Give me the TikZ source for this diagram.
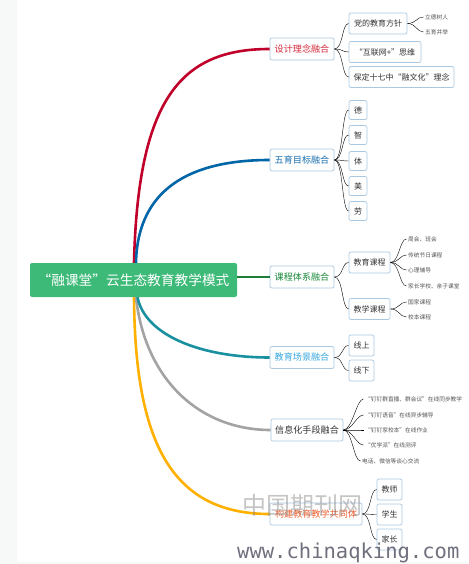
\documentclass[tikz,border=0pt]{standalone}
\usepackage{fontspec}
\newfontfamily\cjk{Noto Sans CJK SC}
\newfontfamily\wmono{DejaVu Sans Mono}
\usetikzlibrary{calc}
\definecolor{rootgreen}{HTML}{3DBA78}
\definecolor{bdr}{HTML}{A9C9E2}
\definecolor{redl}{HTML}{C0002A}
\definecolor{redt}{HTML}{D42A3C}
\definecolor{bluel}{HTML}{0066A8}
\definecolor{bluet}{HTML}{1A6FB0}
\definecolor{greenl}{HTML}{1B7F3A}
\definecolor{greent}{HTML}{1A8A3C}
\definecolor{teall}{HTML}{1890A0}
\definecolor{tealt}{HTML}{3AA8E0}
\definecolor{grayl}{HTML}{A3A3A3}
\definecolor{orangel}{HTML}{FFB000}
\definecolor{oranget}{HTML}{F06030}
\definecolor{txt}{HTML}{333333}
\definecolor{small}{HTML}{555555}
\definecolor{conn}{HTML}{C8C8C8}
\definecolor{strip}{HTML}{F7F8F8}
\definecolor{wm}{HTML}{60616F}
\begin{document}
\begin{tikzpicture}[x=1pt,y=-1pt,
  rootbox/.style={draw=none,fill=rootgreen,rounded corners=2pt,minimum width=207pt,minimum height=34pt,inner sep=0pt,text=white,font=\cjk\fontsize{13.7}{15}\selectfont},
  lone/.style={draw=bdr,line width=0.7pt,fill=white,rounded corners=2pt,minimum height=22pt,inner sep=0pt,font=\cjk\fontsize{9.1}{10}\selectfont},
  ltwo/.style={draw=bdr,line width=0.7pt,fill=white,rounded corners=2pt,minimum height=21pt,inner sep=0pt,text=txt,font=\cjk\fontsize{8}{9}\selectfont},
  lthree/.style={anchor=west,inner sep=1.5pt,text=small,font=\cjk\fontsize{5.7}{6}\selectfont},
  mainline/.style={line width=2.6pt},
  sub/.style={draw=conn,line width=0.6pt,to path={.. controls +(9,0) and +(-7,0) .. (\tikztotarget)}}
]
\useasboundingbox (0,0) rectangle (468,564);
\fill[white] (0,0) rectangle (468,564);
\fill[strip] (0,0) rectangle (17,564);
\fill[strip] (0,562) rectangle (468,564);

% level 1 nodes
\node[lone,text=redt,minimum width=64pt] (k1) at (302,49) {设计理念融合};
\node[lone,text=bluet,minimum width=64pt] (k2) at (302,160) {五育目标融合};
\node[lone,text=greent,minimum width=64pt] (k3) at (302,277) {课程体系融合};
\node[lone,text=tealt,minimum width=64pt] (k4) at (302,357.5) {教育场景融合};
\node[lone,text=txt,minimum width=72pt] (k5) at (307,430) {信息化手段融合};
\node[lone,text=oranget,minimum width=92pt] (k6) at (316,514) {构建教育教学共同体};

% root
\node[rootbox] (r) at (133.5,280) {“融课堂”云生态教育教学模式};

% main connectors
\draw[mainline,redl] ($(r.north)+(0.5,0)$) .. controls (138,100) and (180,49) .. (k1.west);
\draw[mainline,bluel] ($(r.north)+(2.5,0)$) .. controls (137,210) and (165,160) .. (k2.west);
\draw[mainline,greenl] (k3.west -| r.east) -- (k3.west);
\draw[mainline,orangel] ($(r.south)+(0.5,0)$) .. controls (135,440) and (170,514) .. (k6.west);
\draw[mainline,grayl] ($(r.south)+(2.5,0)$) .. controls (145,380) and (200,430) .. (k5.west);
\draw[mainline,teall] ($(r.south)+(4,0)$) .. controls (145,335) and (200,357.5) .. (k4.west);

% branch 1
\node[ltwo,minimum width=58pt] (a1) at (378,23.5) {党的教育方针};
\node[ltwo,minimum width=72pt] (a2) at (385,52) {“互联网+”思维};
\node[ltwo,minimum width=105pt] (a3) at (401.5,77) {保定十七中“融文化”理念};
\node[lthree] (a11) at (423.5,17) {立德树人};
\node[lthree] (a12) at (423.5,32) {五育并举};
\foreach \c in {a1,a2,a3} \draw (k1.east) to[sub] (\c.west);
\foreach \c in {a11,a12} \draw (a1.east) to[sub] (\c.west);

% branch 2
\node[ltwo,minimum width=18pt,minimum height=19pt] (b1) at (358,110) {德};
\node[ltwo,minimum width=18pt,minimum height=19pt] (b2) at (358,135) {智};
\node[ltwo,minimum width=18pt,minimum height=19pt] (b3) at (358,161) {体};
\node[ltwo,minimum width=18pt,minimum height=19pt] (b4) at (358,186) {美};
\node[ltwo,minimum width=18pt,minimum height=19pt] (b5) at (358,211) {劳};
\foreach \c in {b1,b2,b3,b4,b5} \draw (k2.east) to[sub] (\c.west);

% branch 3
\node[ltwo,minimum width=41pt] (c1) at (369.5,262.5) {教育课程};
\node[ltwo,minimum width=41pt] (c2) at (369.5,309) {教学课程};
\node[lthree] (c11) at (406.5,239) {周会、班会};
\node[lthree] (c12) at (406.5,255) {传统节日课程};
\node[lthree] (c13) at (406.5,270) {心理辅导};
\node[lthree] (c14) at (406.5,286) {家长学校、亲子课堂};
\node[lthree] (c21) at (406.5,302) {国家课程};
\node[lthree] (c22) at (406.5,317) {校本课程};
\foreach \c in {c1,c2} \draw (k3.east) to[sub] (\c.west);
\foreach \c in {c11,c12,c13,c14} \draw (c1.east) to[sub] (\c.west);
\foreach \c in {c21,c22} \draw (c2.east) to[sub] (\c.west);

% branch 4
\node[ltwo,minimum width=25pt] (d1) at (361.5,345.5) {线上};
\node[ltwo,minimum width=25pt] (d2) at (361.5,370.5) {线下};
\foreach \c in {d1,d2} \draw (k4.east) to[sub] (\c.west);

% branch 5
\node[lthree] (e1) at (363.5,399) {“钉钉群直播、群会议”在线同步教学};
\node[lthree] (e2) at (363.5,415) {“钉钉语音”在线异步辅导};
\node[lthree] (e3) at (363.5,430) {“钉钉家校本”在线作业};
\node[lthree] (e4) at (363.5,445) {“优学派”在线测评};
\node[lthree] (e5) at (360.5,461) {电话、微信等谈心交流};
\foreach \c in {e1,e2,e3,e4,e5} \draw (k5.east) to[sub] (\c.west);

% branch 6
\node[ltwo,minimum width=25pt] (f1) at (389.5,489.5) {教师};
\node[ltwo,minimum width=25pt] (f2) at (389.5,514.5) {学生};
\node[ltwo,minimum width=25pt] (f3) at (389.5,539.5) {家长};
\foreach \c in {f1,f2,f3} \draw (k6.east) to[sub] (\c.west);

% watermark
\node[text=gray,opacity=0.45,inner sep=0pt,font=\cjk\fontsize{24}{26}\selectfont] (wm1) at (302,505) {中国期刊网};
\node[text=wm,opacity=0.9,inner sep=0pt,anchor=west,font=\wmono\fontsize{20.5}{22}\selectfont] (wm2) at (237,553) {www.chinaqking.com};
\end{tikzpicture}
\end{document}
